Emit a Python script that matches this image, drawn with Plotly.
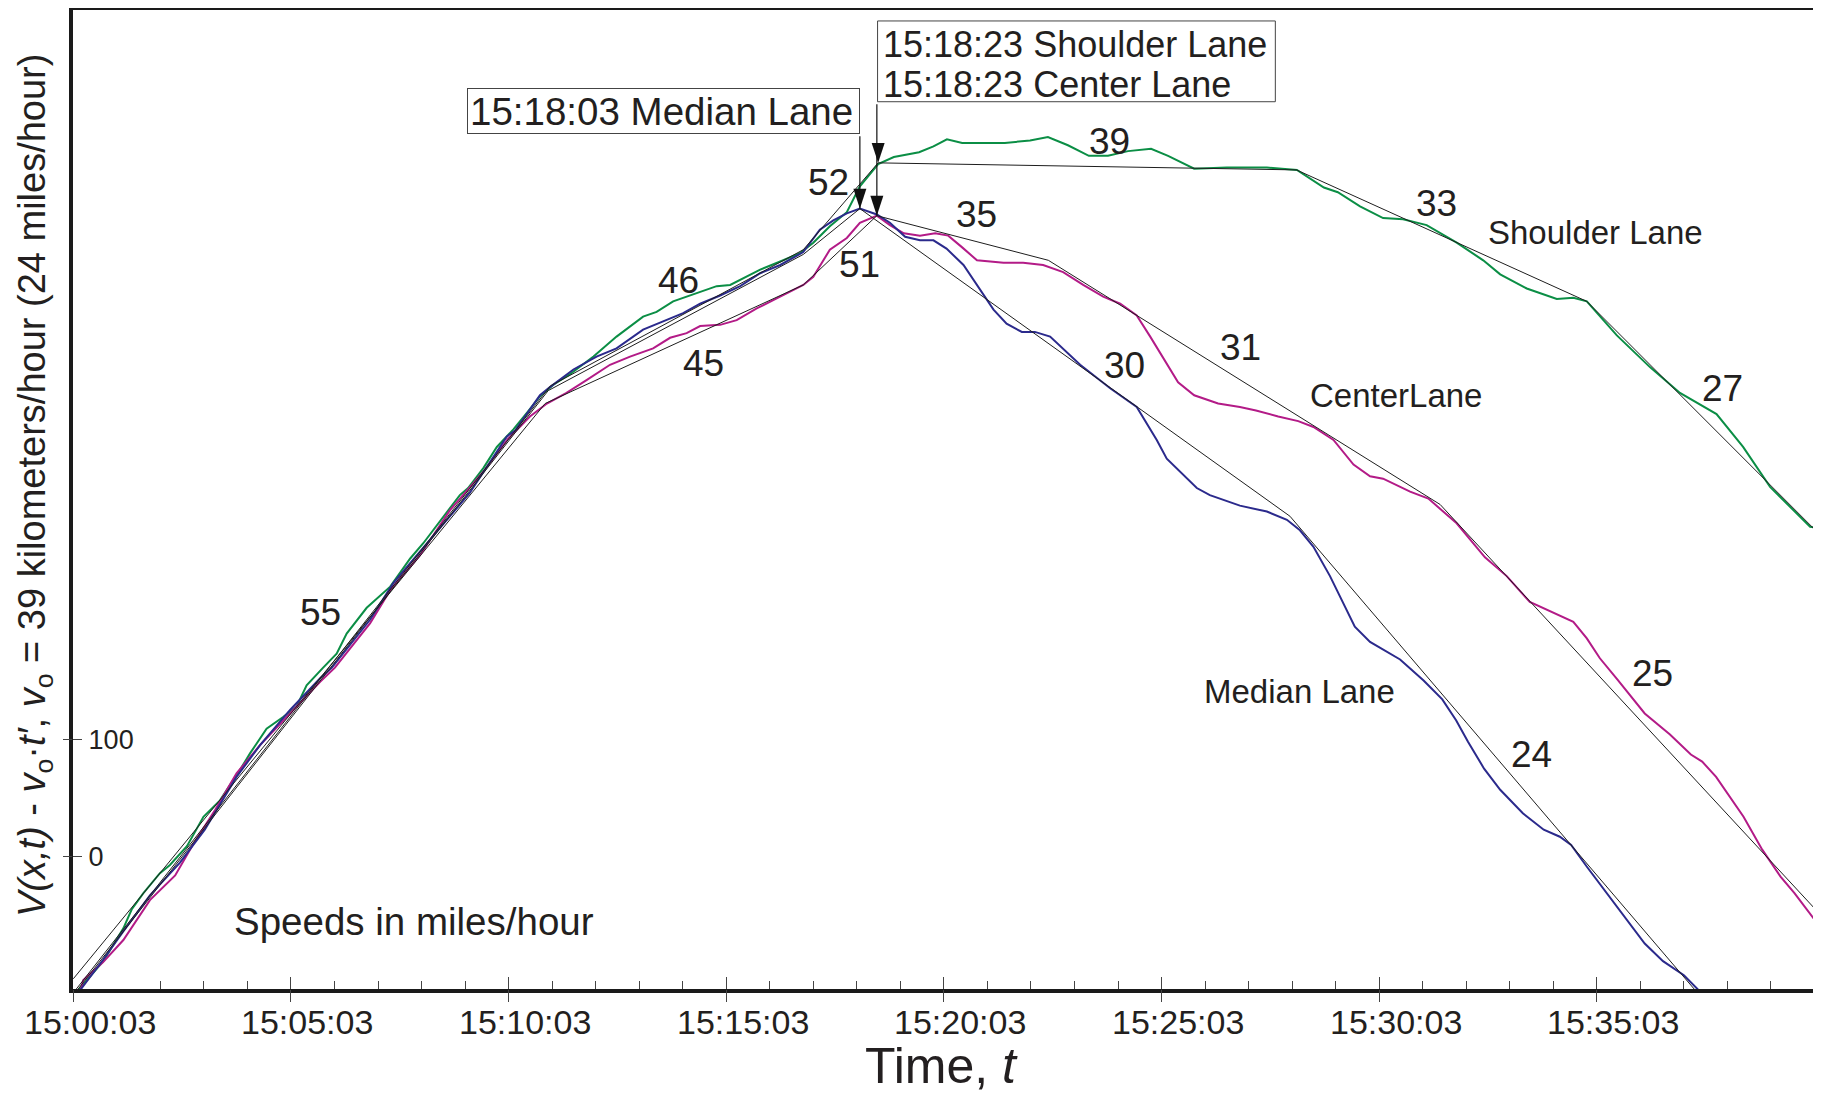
import plotly.graph_objects as go
from datetime import datetime, timedelta

# ---------------- data (time in minutes after 15:00:03, value in plot units) ----------------
shoulder_pts = [(0.08,-115),(0.69,-89),(1.15,-61),(1.34,-45),(1.61,-31),(1.99,-14),(2.22,-7),(2.61,9),
    (2.99,34),(3.37,48),(3.83,74),(4.06,88),(4.44,109),(4.82,119),(5.13,128),(5.36,146),(5.74,161),
    (6.05,173),(6.28,190),(6.74,212),(7.28,230),(7.74,254),(8.04,267),(8.50,290),(8.88,308),(9.07,314),
    (9.42,331),(9.73,349),(10.11,364),(10.42,378),(10.72,392),(11.03,402),(11.41,411),(11.95,426),
    (12.48,443),(13.09,460),(13.40,464),(13.78,473),(14.40,481),(14.78,486),(15.09,487),(15.47,494),
    (15.78,500),(16.24,507),(16.69,514),(17.00,523),(17.38,537),(17.77,549),(18.07,571),(18.49,590),
    (18.85,596),(19.43,600),(19.76,605),(20.07,611),(20.42,608),(21.40,608),(21.98,610),(22.39,613),
    (22.85,606),(23.33,597),(23.77,597),(24.23,601),(24.76,603),(25.15,597),(25.75,586),(26.50,587),
    (27.42,587),(28.11,585),(28.73,570),(29.05,566),(29.56,554),(30.09,544),(30.55,543),(31.09,538),
    (31.78,523),(32.39,508),(32.78,496),(33.39,484),(34.08,475),(34.46,476),(34.77,473),(35.46,444),
    (36.22,417),(36.91,395),(37.75,377),(38.36,349),(38.98,315),(39.90,281),(40.08,280)]

center_pts = [(0.15,-116),(0.23,-105),(0.68,-90),(1.15,-71),(1.76,-37),(2.34,-16),(2.76,11),(3.26,40),
    (3.75,71),(4.29,95),(4.98,122),(5.67,149),(6.01,161),(6.82,199),(7.28,227),(7.97,257),(8.65,295),
    (9.42,328),(9.99,356),(10.49,375),(10.88,386),(11.33,395),(11.79,406),(12.33,419),(12.79,426),
    (13.32,433),(13.71,442),(14.09,446),(14.40,452),(14.86,453),(15.24,457),(15.70,467),(16.08,474),
    (16.47,481),(16.77,487),(17.00,494),(17.38,517),(17.77,527),(18.07,540),(18.46,546),(18.76,538),
    (19.08,531),(19.45,529),(19.80,531),(20.10,529),(20.42,519),(20.76,508),(21.37,506),(21.82,506),
    (22.28,504),(22.74,498),(23.20,487),(23.66,477),(24.05,471),(24.43,461),(24.74,443),(25.12,420),
    (25.38,404),(25.75,393),(26.30,386),(26.80,383),(27.17,380),(27.68,375),(28.14,371),(28.49,366),
    (28.95,355),(29.41,334),(29.79,324),(30.09,322),(30.71,311),(31.13,305),(31.78,284),(32.43,255),
    (32.93,239),(33.46,217),(33.92,209),(34.46,200),(34.77,186),(35.07,169),(35.47,151),(36.10,122),
    (36.68,104),(37.16,87),(37.42,81),(37.74,68),(38.37,34),(38.80,6),(39.22,-17),(39.54,-31),(40.01,-54)]

median_pts = [(0.11,-116),(0.68,-88),(1.14,-64),(1.76,-33),(2.45,-5),(3.02,23),(3.75,68),(4.29,95),
    (4.98,125),(5.67,152),(5.94,161),(6.82,202),(7.35,233),(8.19,270),(9.11,310),(9.96,358),(10.15,363),
    (10.72,393),(10.95,400),(11.49,415),(12.02,426),(12.48,433),(13.09,449),(13.55,456),(14.01,463),
    (14.40,471),(14.86,478),(15.32,486),(15.78,497),(16.24,504),(16.77,515),(17.15,534),(17.46,542),
    (17.77,548),(18.07,552),(18.46,547),(18.76,540),(19.11,528),(19.45,525),(19.76,525),(20.06,518),
    (20.45,504),(20.88,481),(21.14,466),(21.44,454),(21.79,447),(22.09,447),(22.44,443),(23.13,419),
    (23.82,399),(24.43,383),(24.89,355),(25.12,339),(25.81,314),(26.11,308),(26.80,299),(27.42,294),
    (27.88,287),(28.18,278),(28.49,264),(28.87,239),(29.44,196),(29.79,183),(30.48,168),(31.02,150),
    (31.45,134),(31.77,116),(32.04,98),(32.41,75),(32.78,57),(33.30,37),(33.78,23),(34.15,17),
    (34.41,10),(34.78,-9),(35.47,-43),(36.10,-74),(36.52,-89),(37.00,-101),(37.40,-116)]

# piecewise-linear speed fits
median_fit = [(0,-118),(10.91,397),(16.77,513),(18.07,552),(27.95,290),(37.45,-122)]
center_fit = [(0,-104),(10.84,386),(16.77,487),(18.46,546),(22.40,508),(31.40,300),(40.0,-44)]
shoulder_fit = [(0,-116),(10.96,401),(16.77,517),(18.49,591),(28.10,585),(34.77,473),(39.97,280)]

# speed labels (mph) and lane names
speed_labels = ["55","46","45","52","51","35","39","33","30","31","25","24","27"]
speed_label_t = [5.67,13.91,14.47,17.36,18.07,20.75,23.81,31.32,24.16,26.82,36.28,33.51,37.89]
speed_label_v = [208,491,420,574,504,547,609,556,418,434,156,87,399]
lane_names = ["Shoulder Lane","CenterLane","Median Lane"]
lane_name_t = [34.98,30.39,28.18]
lane_name_v = [532,393,141]

# onset of congestion (break points marked with arrows): median, shoulder, center
break_points = [median_fit[3], shoulder_fit[3], center_fit[3]]

# axis ticks
x_tick_minutes = [0, 5, 10, 15, 20, 25, 30, 35]
x_tick_labels = ["15:00:03", "15:05:03", "15:10:03", "15:15:03",
                 "15:20:03", "15:25:03", "15:30:03", "15:35:03"]
y_ticks = [0, 100]
LABEL_SHIFT_MIN = 0.38   # the original prints its time labels a little right of the ticks

BASE = datetime(2000, 1, 1, 15, 0, 3)


def ts(m):
    return BASE + timedelta(minutes=m)


def dstr(m):
    return ts(m).strftime("%Y-%m-%d %H:%M:%S.%f")[:-3]


def split(pts):
    return [ts(p[0]) for p in pts], [p[1] for p in pts]


FONT = "Liberation Sans, Arial, sans-serif"
TXT = "#231f20"
GREEN = "#0b8e45"
MAGENTA = "#b31b87"
NAVY = "#2b2a8c"
TICKC = "#444"

fig = go.Figure()
for pts, col in [(shoulder_pts, GREEN), (center_pts, MAGENTA), (median_pts, NAVY)]:
    x, y = split(pts)
    fig.add_trace(go.Scatter(x=x, y=y, mode="lines", line=dict(color=col, width=2),
                             showlegend=False, hoverinfo="skip"))
for pts in [median_fit, center_fit, shoulder_fit]:
    x, y = split(pts)
    fig.add_trace(go.Scatter(x=x, y=y, mode="lines", line=dict(color="#1e1e1e", width=1),
                             showlegend=False, hoverinfo="skip"))

# arrowheads at the break points (tip sits on the point)
bx, by = split(break_points)
fig.add_trace(go.Scatter(x=bx, y=by, mode="markers", cliponaxis=False,
                         marker=dict(symbol="arrow", angle=180, size=21, color="#111",
                                     line=dict(width=0)),
                         showlegend=False, hoverinfo="skip"))

# invisible helper so the overlay axes (crossing ticks) are drawn
fig.add_trace(go.Scatter(x=[ts(0)], y=[0], xaxis="x2", yaxis="y2", mode="markers",
                         marker=dict(opacity=0), showlegend=False, hoverinfo="skip"))

xr = [dstr(-0.007), dstr(39.966)]
yr = [-112.7, 721.2]
t0 = BASE.strftime("%Y-%m-%d %H:%M:%S")
major_vals = [dstr(m) for m in x_tick_minutes]

fig.update_layout(
    width=1813, height=1086,
    margin=dict(l=65, r=8, t=2, b=105),
    paper_bgcolor="white", plot_bgcolor="white",
    font=dict(family=FONT, color=TXT),
    xaxis=dict(type="date", range=xr, tickmode="array", tickvals=major_vals,
               showticklabels=False, ticks="inside", ticklen=12, tickwidth=1, tickcolor=TICKC,
               showline=True, linewidth=4, linecolor="#1a1a1a", mirror=True,
               showgrid=False, zeroline=False, automargin=False,
               minor=dict(dtick=60000, tick0=t0, ticks="inside", ticklen=8, tickwidth=1,
                          tickcolor=TICKC, showgrid=False)),
    xaxis2=dict(type="date", range=xr, overlaying="x", anchor="y", side="bottom",
                tickmode="array", tickvals=major_vals, ticks="outside", ticklen=12,
                tickwidth=1, tickcolor=TICKC, showticklabels=False, showline=False,
                showgrid=False, zeroline=False),
    yaxis=dict(range=yr, tickmode="array", tickvals=y_ticks, ticks="inside", ticklen=9,
               tickwidth=1, tickcolor=TICKC, ticklabelposition="inside", ticklabelstandoff=9,
               showline=True, linewidth=4, linecolor="#1a1a1a", mirror=True,
               showgrid=False, zeroline=False, automargin=False,
               tickfont=dict(size=27, color=TXT, family=FONT)),
    yaxis2=dict(range=yr, overlaying="y", anchor="x", side="left", tickmode="array",
                tickvals=y_ticks, ticks="outside", ticklen=9, tickwidth=1, tickcolor=TICKC,
                showticklabels=False, showline=False, showgrid=False, zeroline=False),
    showlegend=False,
)

anns = []
# time tick labels (placed through the x axis, slightly right of each tick as in the original)
for m, s in zip(x_tick_minutes, x_tick_labels):
    anns.append(dict(x=ts(m + LABEL_SHIFT_MIN), xref="x", y=-0.0335, yref="paper", text=s,
                     showarrow=False, xanchor="center", yanchor="middle",
                     font=dict(size=34, color=TXT, family=FONT)))
for s, t, v in zip(speed_labels, speed_label_t, speed_label_v):
    anns.append(dict(x=ts(t), y=v, text=s, showarrow=False, xanchor="center", yanchor="middle",
                     font=dict(size=37, color=TXT, family=FONT)))
for s, t, v in zip(lane_names, lane_name_t, lane_name_v):
    anns.append(dict(x=ts(t), y=v, text=s, showarrow=False, xanchor="center", yanchor="middle",
                     font=dict(size=33, color=TXT, family=FONT)))
anns.append(dict(x=ts(7.83), y=-55, text="Speeds in miles/hour", showarrow=False,
                 xanchor="center", yanchor="middle", font=dict(size=38.5, color=TXT, family=FONT)))

# leader lines from the time boxes down to the break points
for (t, v), ay in [(break_points[0], -74), (break_points[2], -113)]:
    anns.append(dict(x=ts(t), y=v, ax=0, ay=ay, text="", showarrow=True, arrowhead=0,
                     arrowwidth=1.2, arrowcolor="#111", standoff=0))

# boxed time labels
anns.append(dict(xref="paper", yref="paper", x=0.2264, y=0.9203, xanchor="left", yanchor="top",
                 text="15:18:03 Median Lane", showarrow=False, align="left",
                 width=387, height=40, borderpad=2, bordercolor="#444", borderwidth=1,
                 bgcolor="white", font=dict(size=38.5, color=TXT, family=FONT)))
anns.append(dict(xref="paper", yref="paper", x=0.4644, y=0.9651, xanchor="left", yanchor="middle",
                 text="15:18:23 Shoulder Lane", showarrow=False,
                 font=dict(size=36, color=TXT, family=FONT)))
anns.append(dict(xref="paper", yref="paper", x=0.4644, y=0.9242, xanchor="left", yanchor="middle",
                 text="15:18:23 Center Lane", showarrow=False,
                 font=dict(size=36, color=TXT, family=FONT)))

# axis titles
anns.append(dict(xref="paper", yref="paper", x=0.4989, y=-0.079, xanchor="center", yanchor="middle",
                 text="Time, <i>t</i>", showarrow=False, font=dict(size=50, color=TXT, family=FONT)))
anns.append(dict(xref="paper", yref="paper", x=-0.0218, y=0.5148, xanchor="center", yanchor="middle",
                 textangle=-90, showarrow=False,
                 text="<i>V(x,t)</i> - <i>v</i><sub>o</sub>·<i>t′</i>, <i>v</i><sub>o</sub> = 39 kilometers/hour (24 miles/hour)",
                 font=dict(size=38, color=TXT, family=FONT)))

fig.update_layout(annotations=anns)
fig.add_shape(type="rect", xref="paper", yref="paper", x0=0.4624, x1=0.6910, y0=0.9063, y1=0.9888,
              line=dict(color="#444", width=1), fillcolor="rgba(0,0,0,0)", layer="above")

fig.write_html("out.html")
